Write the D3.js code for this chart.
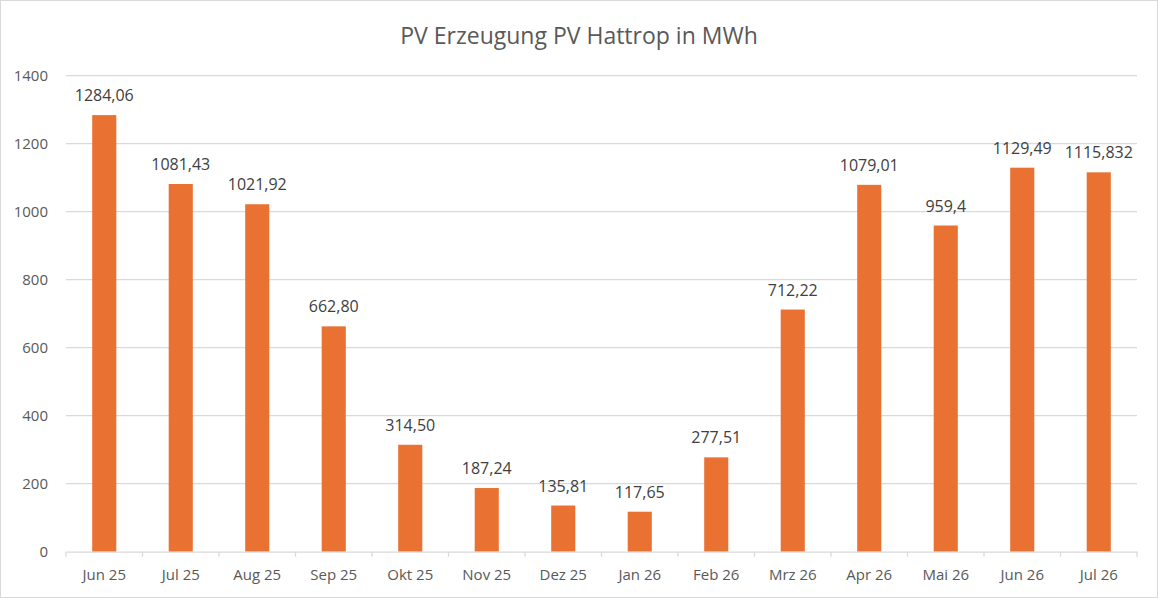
<!DOCTYPE html>
<html><head><meta charset="utf-8">
<script src="https://cdn.jsdelivr.net/npm/d3@7/dist/d3.min.js"></script>
<style>body{margin:0;background:#fff;} svg{display:block;}</style>
</head><body>
<svg id="chart" width="1158" height="598"></svg>
<script>
const categories = ["Jun 25","Jul 25","Aug 25","Sep 25","Okt 25","Nov 25","Dez 25","Jan 26","Feb 26","Mrz 26","Apr 26","Mai 26","Jun 26","Jul 26"];
const values = [1284.06,1081.43,1021.92,662.80,314.50,187.24,135.81,117.65,277.51,712.22,1079.01,959.4,1129.49,1115.832];
const labels = ["1284,06","1081,43","1021,92","662,80","314,50","187,24","135,81","117,65","277,51","712,22","1079,01","959,4","1129,49","1115,832"];
const yTicks = [0,200,400,600,800,1000,1200,1400];
const title = "PV Erzeugung PV Hattrop in MWh";

const svg = d3.select("#chart");
const W = 1158, H = 598;
const m = {left:66, right:1137, top:75.7, bottom:551.7};
const font = "'Open Sans', 'Noto Sans', sans-serif";

svg.append("rect").attr("x",0.5).attr("y",0.5).attr("width",W-1).attr("height",H-1)
  .attr("fill","#fff").attr("stroke","#d9d9d9");

const x = d3.scaleBand().domain(categories).range([m.left, m.right]).paddingInner(0.685).paddingOuter(0.3425);
const xb = d3.scaleBand().domain(categories).range([m.left, m.right]);
const y = d3.scaleLinear().domain([0,1400]).range([m.bottom, m.top]);

// gridlines
svg.append("g").selectAll("line").data(yTicks.filter(d=>d>0)).join("line")
  .attr("x1",m.left).attr("x2",m.right).attr("y1",d=>y(d)).attr("y2",d=>y(d))
  .attr("stroke","#d9d9d9").attr("stroke-width",1.3);

// y axis labels
const yAxis = d3.axisLeft(y).tickValues(yTicks).tickSize(0).tickPadding(18).tickFormat(d3.format("d"));
const gy = svg.append("g").attr("transform",`translate(${m.left},0)`).call(yAxis);
gy.select(".domain").remove();
gy.selectAll("text").attr("font-family",font).attr("font-size",15).attr("fill","#595959");

// bars
svg.append("g").selectAll("rect").data(values).join("rect")
  .attr("x",(d,i)=>x(categories[i])).attr("width",x.bandwidth())
  .attr("y",d=>y(d)).attr("height",d=>y(0)-y(d)).attr("fill","#E97132");

// x axis
const xAxis = d3.axisBottom(xb).tickSize(0).tickPadding(18);
const gx = svg.append("g").attr("transform",`translate(0,${m.bottom})`).call(xAxis);
gx.select(".domain").attr("stroke","#d9d9d9").attr("stroke-width",1.3);
gx.selectAll("text").attr("font-family",font).attr("font-size",15).attr("fill","#595959");
// category boundary ticks
svg.append("g").selectAll("line").data(categories.concat(["__end"])).join("line")
  .attr("x1",(d,i)=>m.left+i*xb.step()).attr("x2",(d,i)=>m.left+i*xb.step())
  .attr("y1",m.bottom).attr("y2",m.bottom+5).attr("stroke","#d9d9d9").attr("stroke-width",1.3);

// data labels
svg.append("g").selectAll("text").data(values).join("text")
  .attr("x",(d,i)=>x(categories[i])+x.bandwidth()/2).attr("y",d=>y(d)-14)
  .attr("text-anchor","middle").attr("font-family",font).attr("font-size",16).attr("fill","#404040")
  .text((d,i)=>labels[i]);

// title
svg.append("text").attr("x",579).attr("y",44).attr("text-anchor","middle")
  .attr("font-family",font).attr("font-size",23).attr("fill","#595959").text(title);
</script>
</body></html>
